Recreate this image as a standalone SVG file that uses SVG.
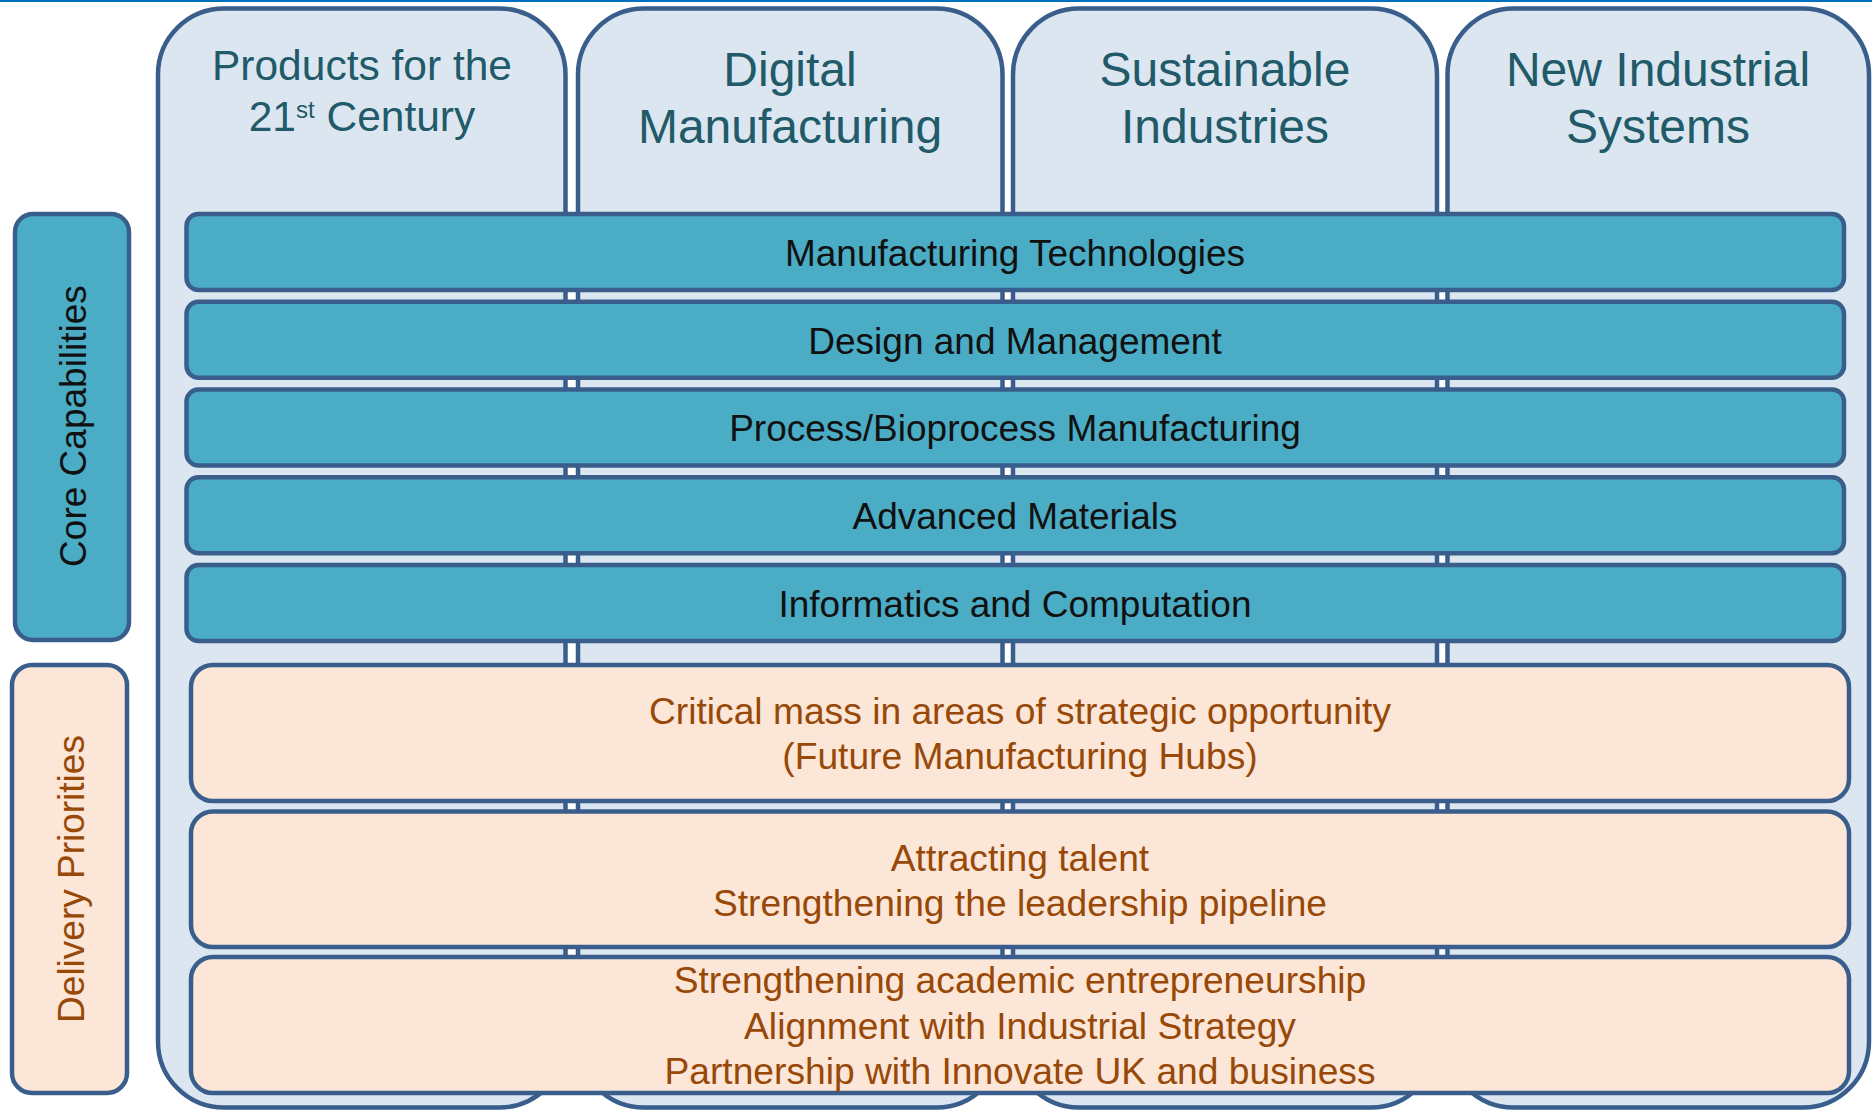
<svg xmlns="http://www.w3.org/2000/svg" width="1872" height="1111" viewBox="0 0 1872 1111">
  <style>
    .col { fill: #DCE6F1; stroke: #3A5E8B; stroke-width: 4.5; }
    .core { fill: #4BACC6; stroke: #3A5E8B; stroke-width: 4.5; }
    .deliv { fill: #FBE6D8; stroke: #3A5E8B; stroke-width: 4.5; }
    .hdr { font-family: "Liberation Sans", Arial, sans-serif; fill: #215A68; text-anchor: middle; }
    .coreTxt { font-family: "Liberation Sans", Arial, sans-serif; font-size: 37px; fill: #111111; text-anchor: middle; }
    .delTxt { font-family: "Liberation Sans", Arial, sans-serif; font-size: 37.2px; fill: #984807; text-anchor: middle; }
    .side { font-family: "Liberation Sans", Arial, sans-serif; font-size: 37px; text-anchor: middle; }
  </style>

  <rect width="1872" height="1111" fill="#FFFFFF"/>
  <!-- thin rule along the top edge -->
  <rect x="0" y="0" width="1872" height="2" fill="#0070C0"/>

  <!-- theme columns -->
  <g id="col-products">
    <rect class="col" x="158" y="8.5" width="407.5" height="1099" rx="66" ry="66"/>
    <text class="hdr" font-size="42.5" x="362" y="80">Products for the</text>
    <text class="hdr" font-size="42.5" x="362" y="131">21<tspan font-size="24" dy="-13">st</tspan><tspan dy="13"> Century</tspan></text>
  </g>
  <g id="col-digital">
    <rect class="col" x="578" y="8.5" width="424.5" height="1099" rx="66" ry="66"/>
    <text class="hdr" font-size="48" x="790" y="86">Digital</text>
    <text class="hdr" font-size="48" x="790" y="143">Manufacturing</text>
  </g>
  <g id="col-sustainable">
    <rect class="col" x="1013" y="8.5" width="424" height="1099" rx="66" ry="66"/>
    <text class="hdr" font-size="48" x="1225" y="86">Sustainable</text>
    <text class="hdr" font-size="48" x="1225" y="143">Industries</text>
  </g>
  <g id="col-industrial">
    <rect class="col" x="1447.5" y="8.5" width="421.5" height="1099" rx="66" ry="66"/>
    <text class="hdr" font-size="48" x="1658" y="86">New Industrial</text>
    <text class="hdr" font-size="48" x="1658" y="143">Systems</text>
  </g>

  <!-- side labels -->
  <g id="label-core">
    <rect class="core" x="15" y="214" width="114" height="426" rx="18" ry="18"/>
    <text class="side" fill="#111111" transform="translate(86,426) rotate(-90)">Core Capabilities</text>
  </g>
  <g id="label-delivery">
    <rect class="deliv" x="12" y="665" width="115" height="428" rx="20" ry="20"/>
    <text class="side" fill="#984807" transform="translate(84,879) rotate(-90)">Delivery Priorities</text>
  </g>

  <!-- core capability bars -->
  <g id="core-manufacturing-tech">
    <rect class="core" x="186.5" y="214" width="1657.5" height="76" rx="12" ry="12"/>
    <text class="coreTxt" x="1015" y="266">Manufacturing Technologies</text>
  </g>
  <g id="core-design">
    <rect class="core" x="186.5" y="301.75" width="1657.5" height="76" rx="12" ry="12"/>
    <text class="coreTxt" x="1015" y="353.5">Design and Management</text>
  </g>
  <g id="core-process">
    <rect class="core" x="186.5" y="389.5" width="1657.5" height="76" rx="12" ry="12"/>
    <text class="coreTxt" x="1015" y="441">Process/Bioprocess Manufacturing</text>
  </g>
  <g id="core-materials">
    <rect class="core" x="186.5" y="477.25" width="1657.5" height="76" rx="12" ry="12"/>
    <text class="coreTxt" x="1015" y="529">Advanced Materials</text>
  </g>
  <g id="core-informatics">
    <rect class="core" x="186.5" y="565" width="1657.5" height="76" rx="12" ry="12"/>
    <text class="coreTxt" x="1015" y="617">Informatics and Computation</text>
  </g>

  <!-- delivery priority panels -->
  <g id="deliv-critical-mass">
    <rect class="deliv" x="191" y="665" width="1658" height="136" rx="22" ry="22"/>
    <text class="delTxt" x="1020" y="724">Critical mass in areas of strategic opportunity</text>
    <text class="delTxt" x="1020" y="769">(Future Manufacturing Hubs)</text>
  </g>
  <g id="deliv-talent">
    <rect class="deliv" x="191" y="811.5" width="1658" height="135.5" rx="22" ry="22"/>
    <text class="delTxt" x="1020" y="871">Attracting talent</text>
    <text class="delTxt" x="1020" y="916">Strengthening the leadership pipeline</text>
  </g>
  <g id="deliv-partnership">
    <rect class="deliv" x="191" y="957" width="1658" height="136" rx="22" ry="22"/>
    <text class="delTxt" x="1020" y="993">Strengthening academic entrepreneurship</text>
    <text class="delTxt" x="1020" y="1039">Alignment with Industrial Strategy</text>
    <text class="delTxt" x="1020" y="1084">Partnership with Innovate UK and business</text>
  </g>
</svg>
